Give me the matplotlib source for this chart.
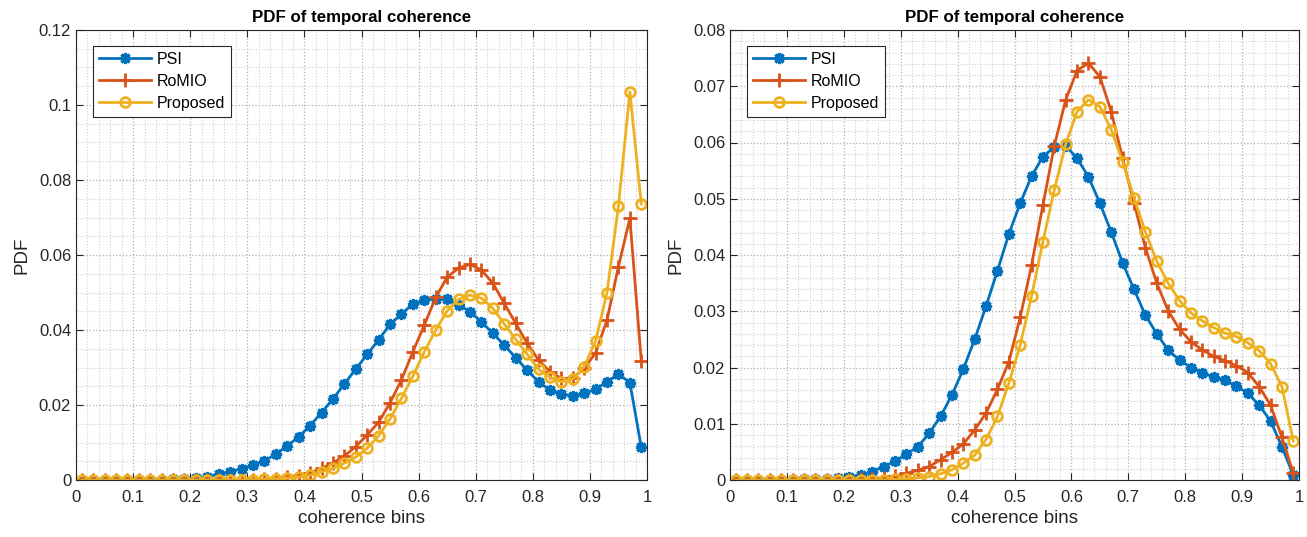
import numpy as np
import matplotlib
matplotlib.use('Agg')
import matplotlib.pyplot as plt
from matplotlib.ticker import MultipleLocator, FuncFormatter

plt.rcParams['font.family'] = ['Liberation Sans', 'DejaVu Sans']

# bin centres 0.01, 0.03, ..., 0.99
bins = np.arange(50) * 0.02 + 0.01

# left panel
psi_left = [0, 0, 0, 0, 0, 0, 0.0001, 0.0001, 0.0002, 0.0003,
            0.0005, 0.0009, 0.0015, 0.0022, 0.003, 0.004, 0.0051, 0.0069, 0.0091, 0.0115,
            0.0145, 0.018, 0.0216, 0.0256, 0.0296, 0.0335, 0.0374, 0.0415, 0.0443, 0.0469,
            0.048, 0.0484, 0.0482, 0.0467, 0.0449, 0.0422, 0.0391, 0.036, 0.0326, 0.0293,
            0.0262, 0.024, 0.0229, 0.0224, 0.0231, 0.0242, 0.0262, 0.0282, 0.026, 0.0087]
romio_left = [0, 0, 0, 0, 0, 0, 0, 0, 0, 0,
              0, 0, 0, 0, 0, 0.0001, 0.0002, 0.0004, 0.0007, 0.0012,
              0.0019, 0.0031, 0.0045, 0.0064, 0.0089, 0.012, 0.0154, 0.0206, 0.0267, 0.0342,
              0.0413, 0.0487, 0.0541, 0.0565, 0.0575, 0.056, 0.0525, 0.0471, 0.0418, 0.0365,
              0.032, 0.0289, 0.0271, 0.0271, 0.0298, 0.0339, 0.0427, 0.0569, 0.0698, 0.0317]
proposed_left = [0, 0, 0, 0, 0, 0, 0, 0, 0, 0,
                 0, 0, 0, 0, 0, 0.0001, 0.0002, 0.0003, 0.0005, 0.0008,
                 0.0013, 0.0022, 0.0031, 0.0045, 0.0061, 0.0085, 0.0118, 0.0163, 0.0218, 0.0277,
                 0.0342, 0.04, 0.0451, 0.0482, 0.0493, 0.0485, 0.0458, 0.0416, 0.0375, 0.0336,
                 0.0295, 0.0274, 0.0262, 0.0269, 0.0302, 0.0371, 0.05, 0.0731, 0.1035, 0.0736]

# right panel
psi_right = [0, 0, 0, 0, 0, 0, 0.0001, 0.0001, 0.0002, 0.0003,
             0.0005, 0.0009, 0.0015, 0.0024, 0.0033, 0.0046, 0.0059, 0.0083, 0.0113, 0.0151,
             0.0197, 0.025, 0.0309, 0.0372, 0.0437, 0.0492, 0.054, 0.0575, 0.0592, 0.0594,
             0.0572, 0.0539, 0.0492, 0.0441, 0.0386, 0.0339, 0.0293, 0.026, 0.0231, 0.0213,
             0.02, 0.0191, 0.0183, 0.0177, 0.0167, 0.0154, 0.0133, 0.0105, 0.0059, 0.0009]
romio_right = [0, 0, 0, 0, 0, 0, 0, 0, 0, 0,
               0, 0.0001, 0.0002, 0.0004, 0.0007, 0.0012, 0.0017, 0.0024, 0.0036, 0.0049,
               0.0064, 0.0089, 0.0119, 0.0161, 0.021, 0.0289, 0.0382, 0.0489, 0.0594, 0.0676,
               0.0728, 0.0741, 0.0717, 0.0655, 0.0572, 0.0493, 0.0413, 0.035, 0.0301, 0.0268,
               0.0246, 0.0231, 0.022, 0.0212, 0.0203, 0.0191, 0.0166, 0.0133, 0.0076, 0.0012]
proposed_right = [0, 0, 0, 0, 0, 0, 0, 0, 0, 0,
                  0, 0, 0, 0, 0.0001, 0.0002, 0.0004, 0.0006, 0.0011, 0.0018,
                  0.003, 0.0044, 0.0072, 0.0113, 0.0172, 0.024, 0.0327, 0.0424, 0.0516, 0.0597,
                  0.0655, 0.0676, 0.0664, 0.0623, 0.0566, 0.0502, 0.0441, 0.0389, 0.035, 0.0319,
                  0.0297, 0.0283, 0.0271, 0.0261, 0.0255, 0.0244, 0.023, 0.0207, 0.0166, 0.0069]

labels = ['PSI', 'RoMIO', 'Proposed']
colors = ['#0072BD', '#D95319', '#EDB120']

fig = plt.figure(figsize=(13.07, 5.37), dpi=100)
ax1 = fig.add_axes([76 / 1307, 57 / 537, 571 / 1307, 450 / 537])
ax2 = fig.add_axes([730 / 1307, 57 / 537, 569 / 1307, 450 / 537])

fmt = FuncFormatter(lambda v, p: '%g' % round(v, 4))


def draw(ax, series, ymax, ymajor, yminor):
    psi, romio, prop = series
    ax.plot(bins, psi, color=colors[0], lw=2, marker=(8, 2, 0), ms=8, mew=2.2, label=labels[0])
    ax.plot(bins, romio, color=colors[1], lw=2, marker='+', ms=10, mew=2, label=labels[1])
    ax.plot(bins, prop, color=colors[2], lw=2, marker='o', ms=7, mew=2, mfc='none', label=labels[2])
    ax.set_xlim(0, 1)
    ax.set_ylim(0, ymax)
    ax.xaxis.set_major_locator(MultipleLocator(0.1))
    ax.xaxis.set_minor_locator(MultipleLocator(0.02))
    ax.yaxis.set_major_locator(MultipleLocator(ymajor))
    ax.yaxis.set_minor_locator(MultipleLocator(yminor))
    ax.xaxis.set_major_formatter(fmt)
    ax.yaxis.set_major_formatter(fmt)
    ax.grid(which='major', color='#b0b0b0', ls=':', lw=0.9)
    ax.grid(which='minor', color='#d0d0d0', ls=':', lw=0.8)
    ax.set_axisbelow(True)
    ax.tick_params(which='major', direction='in', top=True, right=True, length=5,
                   labelsize=12, colors='#262626')
    ax.tick_params(axis='x', which='major', pad=7)
    ax.tick_params(which='minor', length=0)
    for s in ax.spines.values():
        s.set_color('#262626')
        s.set_linewidth(0.8)
    ax.set_title('PDF of temporal coherence', fontsize=12.2, fontweight='bold', pad=6)
    ax.set_xlabel('coherence bins', fontsize=13.5, color='#262626', labelpad=4)
    leg = ax.legend(loc='upper left', bbox_to_anchor=(17 / 571, 1 - 16 / 450), borderaxespad=0,
                    fontsize=11.5, fancybox=False, framealpha=1, edgecolor='#262626',
                    handlelength=3.3, handletextpad=0.35, borderpad=0.35, labelspacing=0.45)
    leg.get_frame().set_linewidth(0.8)


draw(ax1, (psi_left, romio_left, proposed_left), 0.12, 0.02, 0.005)
draw(ax2, (psi_right, romio_right, proposed_right), 0.08, 0.01, 0.002)
ax1.set_ylabel('PDF', fontsize=13.5, color='#262626', labelpad=6)
ax2.set_ylabel('PDF', fontsize=13.5, color='#262626', labelpad=6)

fig.savefig('out.png', dpi=100)
